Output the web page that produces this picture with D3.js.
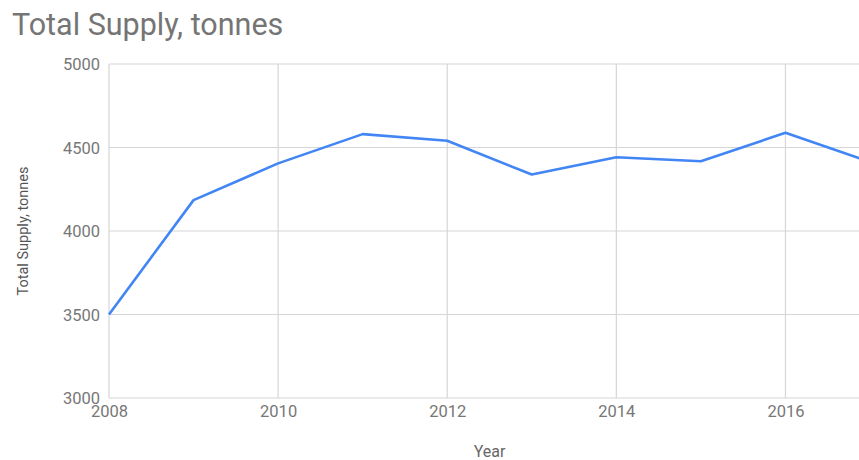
<!DOCTYPE html>
<html>
<head>
<meta charset="utf-8">
<script src="https://cdn.jsdelivr.net/npm/d3@7"></script>
<style>
  html, body { margin: 0; padding: 0; background: #fff; overflow: hidden; }
  svg { display: block; font-family: Roboto, "Noto Sans", sans-serif; }
</style>
</head>
<body>
<script>
// Annual total supply, tonnes
const years = [2008, 2009, 2010, 2011, 2012, 2013, 2014, 2015, 2016, 2017];
const supply = [3500, 4185, 4405, 4580, 4540, 4338, 4442, 4418, 4588, 4414];
const xTickValues = [2008, 2010, 2012, 2014, 2016];
const yTickValues = [3000, 3500, 4000, 4500, 5000];

const chartTitle = "Total Supply, tonnes";
const xAxisTitle = "Year";
const yAxisTitle = "Total Supply, tonnes";

const width = 859, height = 460;
const plot = { left: 109, right: 870, top: 64, bottom: 398 };

const svg = d3.select("body").append("svg")
  .attr("width", width)
  .attr("height", height);

const x = d3.scaleLinear().domain([2008, 2017]).range([plot.left, plot.right]);
const y = d3.scaleLinear().domain([3000, 5000]).range([plot.bottom, plot.top]);

// Horizontal gridlines
svg.append("g")
  .selectAll("line")
  .data(yTickValues)
  .join("line")
  .attr("x1", plot.left).attr("x2", plot.right)
  .attr("y1", d => y(d)).attr("y2", d => y(d))
  .attr("stroke", "#d6d6d6").attr("stroke-width", 1.2);

// Vertical gridlines
svg.append("g")
  .selectAll("line")
  .data(xTickValues)
  .join("line")
  .attr("x1", d => x(d)).attr("x2", d => x(d))
  .attr("y1", plot.top).attr("y2", plot.bottom)
  .attr("stroke", "#d6d6d6").attr("stroke-width", 1.2);

// Y axis labels
const yAxis = d3.axisLeft(y).tickValues(yTickValues).tickSize(0).tickPadding(9).tickFormat(d3.format("d"));
svg.append("g")
  .attr("transform", `translate(${plot.left},0)`)
  .call(yAxis)
  .call(g => g.select(".domain").remove())
  .call(g => g.selectAll("text")
    .attr("fill", "#777").attr("font-size", 16.5)
    .attr("font-family", "Roboto, sans-serif").attr("dy", "0.35em"));

// X axis labels
const xAxis = d3.axisBottom(x).tickValues(xTickValues).tickSize(0).tickPadding(7).tickFormat(d3.format("d"));
svg.append("g")
  .attr("transform", `translate(0,${plot.bottom})`)
  .call(xAxis)
  .call(g => g.select(".domain").remove())
  .call(g => g.selectAll("text")
    .attr("fill", "#777").attr("font-size", 16.5)
    .attr("font-family", "Roboto, sans-serif"));

// Data line
const line = d3.line()
  .x((d, i) => x(years[i]))
  .y(d => y(d));

svg.append("path")
  .datum(supply)
  .attr("d", line)
  .attr("fill", "none")
  .attr("stroke", "#4285f4")
  .attr("stroke-width", 2.6)
  .attr("stroke-linejoin", "round");

// Titles
svg.append("text")
  .attr("x", 12).attr("y", 35)
  .attr("fill", "#757575")
  .attr("font-size", 30.5)
  .text(chartTitle);

svg.append("text")
  .attr("x", (plot.left + plot.right) / 2).attr("y", 457)
  .attr("text-anchor", "middle")
  .attr("fill", "#666")
  .attr("font-size", 16)
  .text(xAxisTitle);

svg.append("text")
  .attr("transform", `translate(28,${(plot.top + plot.bottom) / 2}) rotate(-90)`)
  .attr("text-anchor", "middle")
  .attr("fill", "#555")
  .attr("font-size", 14.5)
  .text(yAxisTitle);
</script>
</body>
</html>
